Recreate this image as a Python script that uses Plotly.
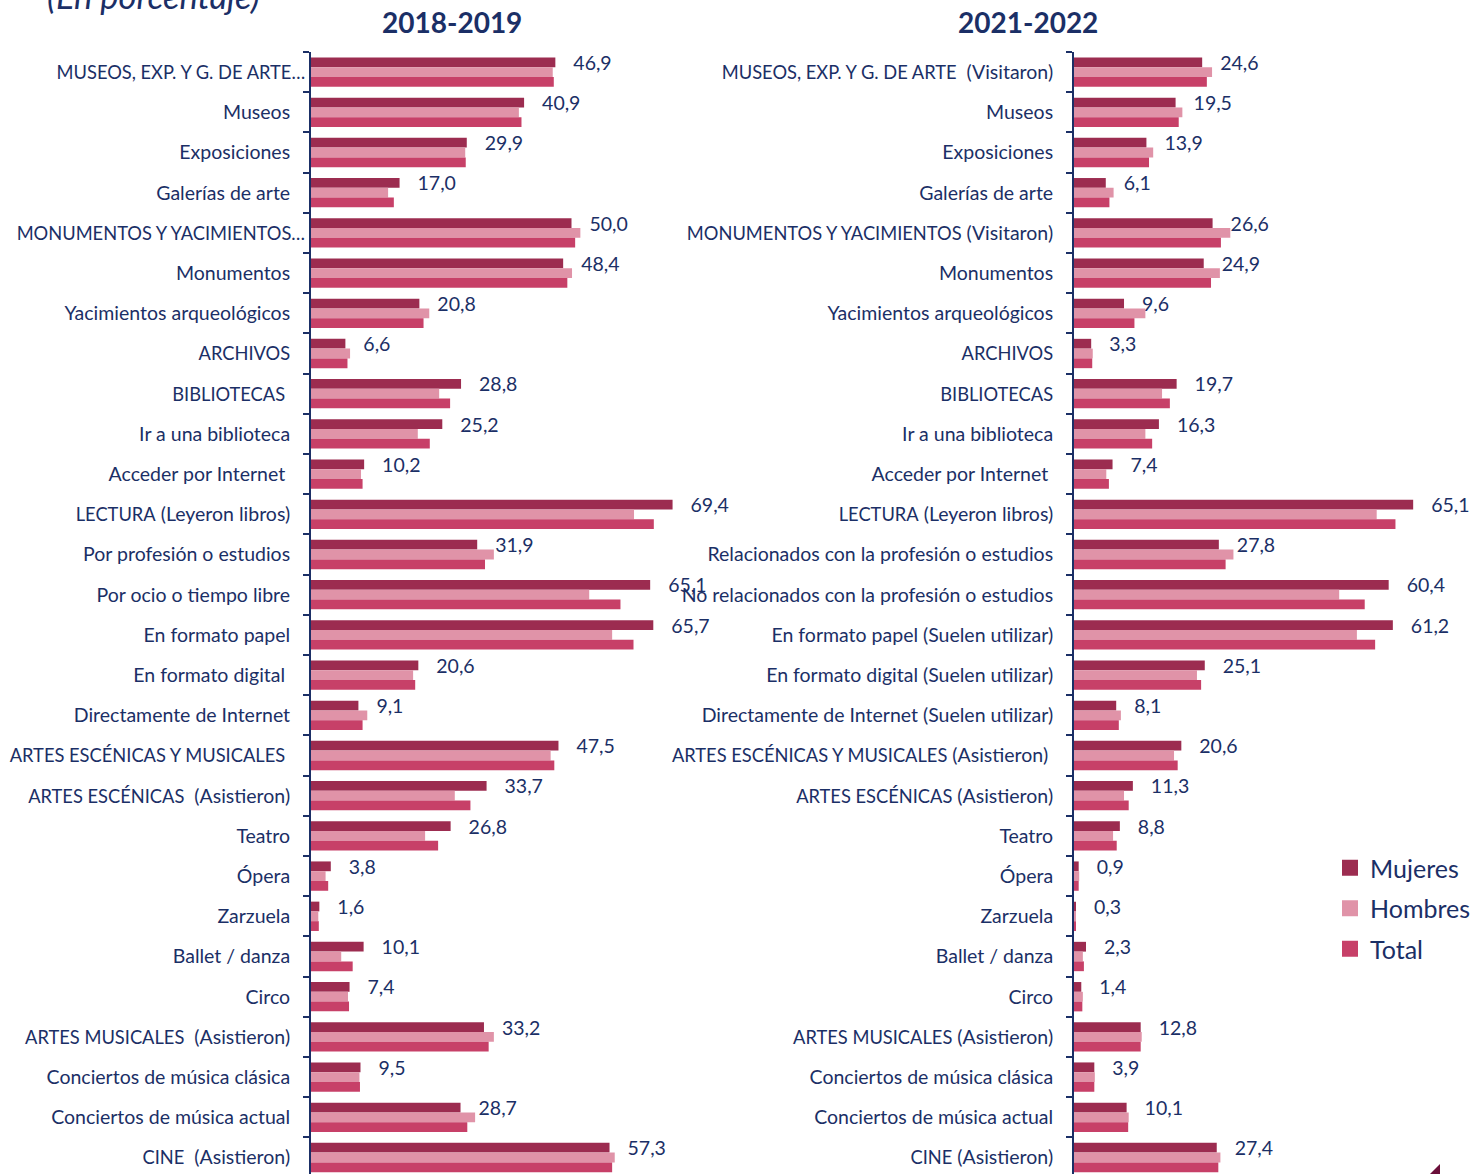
import re
import plotly.graph_objects as go

W, H = 1474, 1174
NAVY = "#1B2F66"
C_MUJ = "#9C2C50"
C_HOM = "#E093A8"
C_TOT = "#C74068"
NB = "\u00a0"

cats_1819 = [
    "MUSEOS, EXP. Y G. DE ARTE…", "Museos", "Exposiciones", "Galerías de arte",
    "MONUMENTOS Y YACIMIENTOS…", "Monumentos", "Yacimientos arqueológicos", "ARCHIVOS",
    "BIBLIOTECAS ", "Ir a una biblioteca", "Acceder por Internet ", "LECTURA (Leyeron libros)",
    "Por profesión o estudios", "Por ocio o tiempo libre", "En formato papel", "En formato digital ",
    "Directamente de Internet", "ARTES ESCÉNICAS Y MUSICALES ", "ARTES ESCÉNICAS  (Asistieron)", "Teatro",
    "Ópera", "Zarzuela", "Ballet / danza", "Circo",
    "ARTES MUSICALES  (Asistieron)", "Conciertos de música clásica", "Conciertos de música actual", "CINE  (Asistieron)",
]
muj_1819 = [46.9, 40.9, 29.9, 17.0, 50.0, 48.4, 20.8, 6.6, 28.8, 25.2, 10.2, 69.4, 31.9, 65.1,
            65.7, 20.6, 9.1, 47.5, 33.7, 26.8, 3.8, 1.6, 10.1, 7.4, 33.2, 9.5, 28.7, 57.3]
hom_1819 = [46.4, 39.9, 29.6, 14.8, 51.7, 50.1, 22.7, 7.5, 24.6, 20.5, 9.6, 62.0, 35.1, 53.4,
            57.8, 19.6, 10.8, 46.0, 27.6, 21.9, 2.8, 1.4, 5.8, 7.1, 35.1, 9.3, 31.5, 58.3]
tot_1819 = [46.6, 40.4, 29.7, 15.9, 50.7, 49.2, 21.6, 7.0, 26.7, 22.8, 9.9, 65.8, 33.4, 59.4,
            61.9, 20.0, 9.9, 46.7, 30.6, 24.4, 3.3, 1.5, 8.0, 7.3, 34.1, 9.4, 30.0, 57.8]

cats_2122 = [
    "MUSEOS, EXP. Y G. DE ARTE  (Visitaron)", "Museos", "Exposiciones", "Galerías de arte",
    "MONUMENTOS Y YACIMIENTOS (Visitaron)", "Monumentos", "Yacimientos arqueológicos", "ARCHIVOS",
    "BIBLIOTECAS", "Ir a una biblioteca", "Acceder por Internet ", "LECTURA (Leyeron libros)",
    "Relacionados con la profesión o estudios", "No relacionados con la profesión o estudios",
    "En formato papel (Suelen utilizar)", "En formato digital (Suelen utilizar)",
    "Directamente de Internet (Suelen utilizar)", "ARTES ESCÉNICAS Y MUSICALES (Asistieron) ",
    "ARTES ESCÉNICAS (Asistieron)", "Teatro",
    "Ópera", "Zarzuela", "Ballet / danza", "Circo",
    "ARTES MUSICALES (Asistieron)", "Conciertos de música clásica", "Conciertos de música actual", "CINE (Asistieron)",
]
muj_2122 = [24.6, 19.5, 13.9, 6.1, 26.6, 24.9, 9.6, 3.3, 19.7, 16.3, 7.4, 65.1, 27.8, 60.4,
            61.2, 25.1, 8.1, 20.6, 11.3, 8.8, 0.9, 0.3, 2.3, 1.4, 12.8, 3.9, 10.1, 27.4]
hom_2122 = [26.5, 20.8, 15.2, 7.6, 30.0, 28.0, 13.7, 3.6, 16.9, 13.7, 6.2, 58.1, 30.6, 50.9,
            54.3, 23.6, 9.0, 19.2, 9.6, 7.5, 1.0, 0.3, 1.7, 1.7, 13.0, 4.0, 10.5, 28.1]
tot_2122 = [25.5, 20.1, 14.4, 6.8, 28.2, 26.3, 11.6, 3.5, 18.4, 15.0, 6.7, 61.7, 29.1, 55.8,
            57.8, 24.4, 8.6, 19.9, 10.5, 8.2, 0.9, 0.3, 1.9, 1.6, 12.8, 3.9, 10.4, 27.7]

series_names = ["Mujeres", "Hombres", "Total"]
series_colors = [C_MUJ, C_HOM, C_TOT]

FONT = "Lato"
TICK_SIZE = 19.5
CAPS_SIZE = 18.3
CAPS_RE = re.compile(r"([A-ZÁÉÍÓÚÑ][A-ZÁÉÍÓÚÑ.,/ ]*[A-ZÁÉÍÓÚÑ.…])")


def tick_label(s):
    """Display form of a category: trailing spaces kept (nbsp), caps runs slightly smaller
    (Calibri-like proportions), plus right padding unless the label was truncated."""
    core = s.rstrip(" ")
    trail = len(s) - len(core)
    core = CAPS_RE.sub(lambda m: f"<span style='font-size:{CAPS_SIZE}px'>{m.group(1)}</span>", core)
    pad = 0 if s.endswith("…") else 3
    return core + NB * (trail + pad)


def lbl(v):
    return NB * 3 + f"{v:.1f}".replace(".", ",")


fig = go.Figure()
panels = [
    (cats_1819, [muj_1819, hom_1819, tot_1819], "x", "y"),
    (cats_2122, [muj_2122, hom_2122, tot_2122], "x2", "y2"),
]
for cats, vals, xa, ya in panels:
    ylab = [tick_label(c) for c in cats]
    for i, (name, col, v) in enumerate(zip(series_names, series_colors, vals)):
        kw = {}
        if i == 0:
            kw = dict(text=[lbl(a) for a in v], textposition="outside",
                      textfont=dict(color=NAVY, size=19.5, family=FONT),
                      constraintext="none", cliponaxis=False)
        fig.add_trace(go.Bar(
            y=ylab, x=v, orientation="h", name=name, xaxis=xa, yaxis=ya,
            marker=dict(color=col, line=dict(width=0)),
            showlegend=False, hoverinfo="skip", **kw))

# legend entries (larger square swatches)
for name, col in zip(series_names, series_colors):
    fig.add_trace(go.Scatter(x=[None], y=[None], mode="markers", name=name,
                             legendgroup=name,
                             marker=dict(symbol="square", size=16, color=col),
                             xaxis="x2", yaxis="y2", showlegend=True, hoverinfo="skip"))

PX = 5.21
xl0, xl1 = 311, 700
xr0, xr1 = 1074, 1463
rng = (xl1 - xl0) / PX
top = 52
ydom = [0, 1 - top / H]
yrange = [-0.5 + (H - top) / 40.2, -0.5]

yax = dict(domain=ydom, range=yrange, showline=True, linecolor=NAVY, linewidth=2,
           ticks="outside", ticklen=6, tickwidth=2, tickcolor=NAVY, tickson="boundaries",
           ticklabelstandoff=0, showgrid=False, zeroline=False, type="category",
           automargin=False, tickfont=dict(family=FONT, size=TICK_SIZE, color=NAVY))
xax = dict(range=[0, rng], visible=False, showgrid=False, zeroline=False, automargin=False)

fig.update_layout(
    width=W, height=H, margin=dict(l=0, r=0, t=0, b=0, autoexpand=False),
    paper_bgcolor="white", plot_bgcolor="white",
    barmode="group", bargap=0.27, bargroupgap=0,
    font=dict(family=FONT, color=NAVY),
    xaxis=dict(domain=[xl0 / W, xl1 / W], anchor="y", **xax),
    xaxis2=dict(domain=[xr0 / W, xr1 / W], anchor="y2", **xax),
    yaxis=dict(anchor="x", **yax),
    yaxis2=dict(anchor="x2", **yax),
    legend=dict(x=1330 / W, y=1 - 845 / H, xanchor="left", yanchor="top",
                xref="container", yref="container",
                font=dict(family=FONT, size=25, color=NAVY),
                tracegroupgap=5, bgcolor="rgba(0,0,0,0)", itemwidth=30),
    annotations=[
        dict(text="<b>2018-2019</b>", x=452 / W, y=1 - 22 / H, xref="paper", yref="paper",
             xanchor="center", yanchor="middle",
             showarrow=False, font=dict(family=FONT, size=28, color=NAVY)),
        dict(text="<b>2021-2022</b>", x=1028 / W, y=1 - 22 / H, xref="paper", yref="paper",
             xanchor="center", yanchor="middle",
             showarrow=False, font=dict(family=FONT, size=28, color=NAVY)),
        dict(text="<i>(En porcentaje)</i>", x=45 / W, y=1 - 18 / H, xref="paper", yref="paper",
             xanchor="left", yanchor="bottom", showarrow=False,
             font=dict(family=FONT, size=34.5, color=NAVY)),
    ],
    shapes=[
        dict(type="path", xref="paper", yref="paper",
             path=f"M {1430/W} {1-1174/H} L {1440/W} {1-1174/H} L {1440/W} {1-1164/H} Z",
             fillcolor="#6B0F3A", line=dict(width=0)),
    ],
)

fig.write_html("out.html", config={"displayModeBar": False},
               post_script="document.body.style.margin='0';document.body.style.overflow='hidden';")
